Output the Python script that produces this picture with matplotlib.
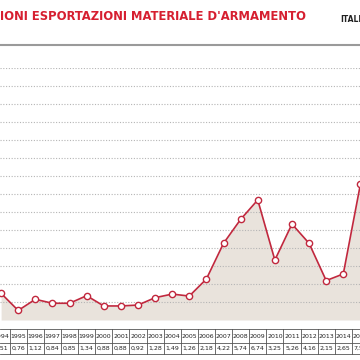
import matplotlib
matplotlib.use("Agg")
import matplotlib.pyplot as plt
import matplotlib.transforms as mtransforms

# Export authorisations (billion euro)
years = list(range(1994, 2016))
values = [1.48, 0.53, 1.15, 0.93, 0.93, 1.35, 0.78, 0.78, 0.83, 1.24, 1.44,
          1.33, 2.28, 4.26, 5.59, 6.67, 3.33, 5.33, 4.26, 2.19, 2.56, 7.54]
# labels printed in the table under the chart
value_labels = ["1,51", "0,76", "1,12", "0,84", "0,85", "1,34", "0,88", "0,88",
                "0,92", "1,28", "1,49", "1,26", "2,18", "4,22", "5,74", "6,74",
                "3,25", "5,26", "4,16", "2,15", "2,65", "7,55"]
grid_levels = list(range(1, 15))

RED = "#c1283e"
FILL = "#e9e3dc"
NARROW = ["Liberation Sans Narrow", "DejaVu Sans"]

fig = plt.figure(figsize=(3.6, 3.6), dpi=100)
fig.patch.set_facecolor("white")

W, H = 360.0, 360.0
px_year = 17.11
x0 = 1994 - 1.1 / px_year
x1 = x0 + W / px_year

ax = fig.add_axes([0, (H - 320) / H, 1, (320 - 68) / H])
ax.set_xlim(x0, x1)
ax.set_ylim(0, 14)
ax.axis("off")

ax.fill_between(years, values, 0, color=FILL, zorder=1, lw=0, clip_on=False)
for g in grid_levels:
    ax.axhline(g, color="#b5b5b5", lw=0.8, ls=(0, (1, 1.5)), zorder=2)
ax.plot(years, values, color=RED, lw=1.2, marker="o", ms=4.5,
        mfc="white", mec=RED, mew=1.0, zorder=3, clip_on=False)

# header
fig.text(0.0, (H - 17) / H, "IONI ESPORTAZIONI MATERIALE D'ARMAMENTO",
         color="#d61f30", fontsize=9.3, fontweight="heavy",
         family=NARROW, fontstretch="condensed", ha="left", va="center")
fig.text(340 / W, (H - 20) / H, "ITALI", color="#222222", fontsize=5.5,
         fontweight="bold", family=NARROW, ha="left", va="center")
fig.add_artist(plt.Line2D([0, 1], [(H - 45) / H, (H - 45) / H],
                          transform=fig.transFigure, color="#9a9a9a", lw=1.5))

# table of years and values
trans = mtransforms.blended_transform_factory(ax.transData, fig.transFigure)
row_lines = [329, 342.5, 354]
for r in row_lines:
    fig.add_artist(plt.Line2D([0, 1], [(H - r) / H] * 2,
                              transform=fig.transFigure, color="#555555", lw=0.6))
for y in years + [2015 + 1]:
    xs = y - 0.5
    fig.add_artist(plt.Line2D([xs, xs], [(H - 329) / H, (H - 354) / H],
                              transform=trans, color="#555555", lw=0.6))
for y, lab in zip(years, value_labels):
    fig.text(y, (H - 336) / H, str(y), transform=trans, fontsize=4.5,
             family=NARROW, ha="center", va="center", color="#222222")
    fig.text(y, (H - 348.5) / H, lab, transform=trans, fontsize=4.5,
             family=NARROW, ha="center", va="center", color="#222222")

fig.savefig("out.png", dpi=100)
